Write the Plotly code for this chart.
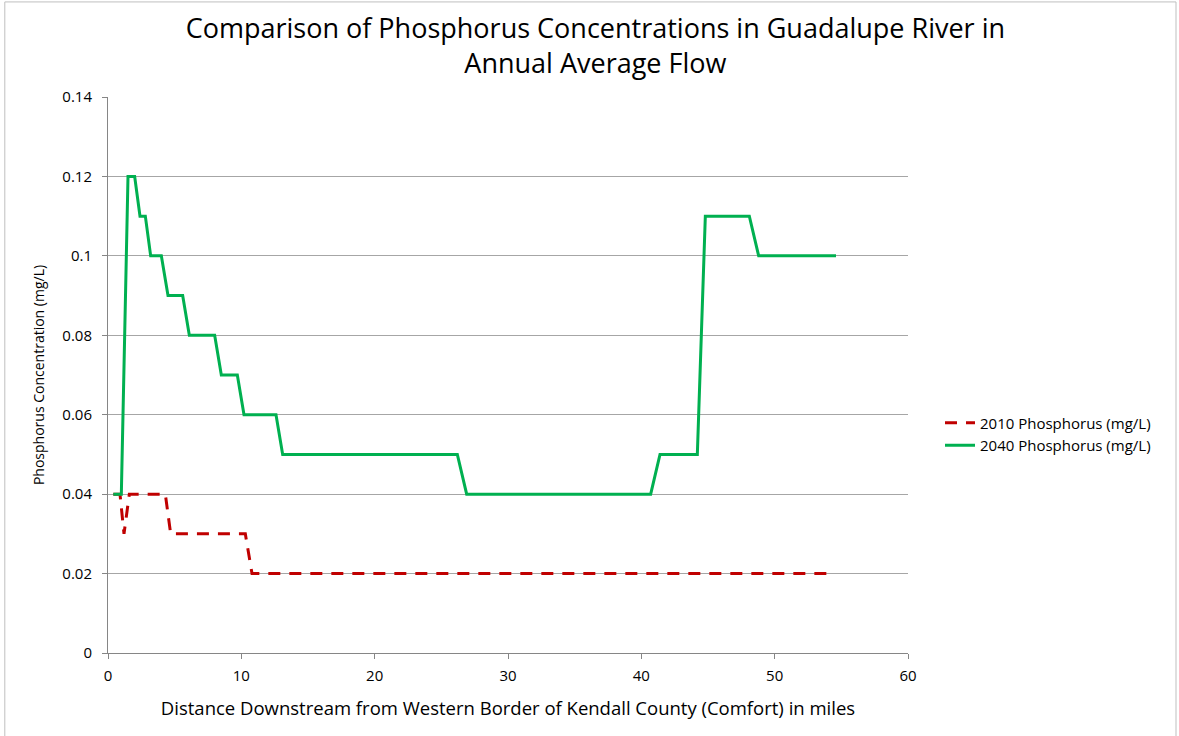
import plotly.graph_objects as go

# 2010 series: distance (miles) vs phosphorus (mg/L)
x_2010 = [0.4, 0.9, 1.2, 1.6, 4.3, 4.7, 10.3, 10.8, 54.0]
p_2010 = [0.04, 0.04, 0.03, 0.04, 0.04, 0.03, 0.03, 0.02, 0.02]

# 2040 series
x_2040 = [0.4, 1.0, 1.5, 2.0, 2.4, 2.8, 3.2, 4.0, 4.5, 5.6, 6.1, 8.0, 8.5, 9.7,
          10.2, 12.6, 13.1, 26.2, 26.9, 40.7, 41.4, 44.2, 44.8, 48.1, 48.8, 54.6]
p_2040 = [0.04, 0.04, 0.12, 0.12, 0.11, 0.11, 0.10, 0.10, 0.09, 0.09, 0.08, 0.08,
          0.07, 0.07, 0.06, 0.06, 0.05, 0.05, 0.04, 0.04, 0.05, 0.05, 0.11, 0.11,
          0.10, 0.10]

x_ticks = [0, 10, 20, 30, 40, 50, 60]
y_ticks = [0, 0.02, 0.04, 0.06, 0.08, 0.1, 0.12, 0.14]
y_labels = ["0", "0.02", "0.04", "0.06", "0.08", "0.1", "0.12", "0.14"]

font = "Open Sans"

fig = go.Figure()
fig.add_trace(go.Scatter(
    x=x_2010, y=p_2010, mode="lines", name="2010 Phosphorus (mg/L)",
    line=dict(color="#c00000", width=3, dash="12px,9px"),
))
fig.add_trace(go.Scatter(
    x=x_2040, y=p_2040, mode="lines", name="2040 Phosphorus (mg/L)",
    line=dict(color="#00b050", width=3),
))

fig.update_layout(
    width=1179, height=736,
    margin=dict(l=108, r=271, t=97, b=83),
    plot_bgcolor="white", paper_bgcolor="white",
    font=dict(family=font, color="black", size=14),
    title=dict(
        text="Comparison of Phosphorus Concentrations in Guadalupe River in<br>Annual Average Flow",
        x=0.505, xref="container", xanchor="center",
        y=0.948, yref="container", yanchor="middle",
        font=dict(family=font, size=27, color="black"),
    ),
    xaxis=dict(
        range=[0, 60], tickvals=x_ticks, showgrid=False, zeroline=False,
        showline=True, linecolor="#868686", linewidth=1,
        ticks="outside", ticklen=5, tickcolor="#868686",
        tickfont=dict(size=15), automargin=False, ticklabelstandoff=4,
        title=dict(text="Distance Downstream from Western Border of Kendall County (Comfort) in miles",
                   font=dict(size=18.5), standoff=18),
    ),
    yaxis=dict(
        range=[0, 0.14], tickvals=y_ticks, ticktext=y_labels,
        showgrid=True, gridcolor="#a6a6a6", gridwidth=1, zeroline=False,
        showline=True, linecolor="#868686", linewidth=1,
        ticks="outside", ticklen=5, tickcolor="#868686",
        tickfont=dict(size=15), automargin=False, ticklabelstandoff=7,
        title=dict(text="Phosphorus Concentration (mg/L)", font=dict(size=14), standoff=14),
    ),
    legend=dict(
        x=1.04, xanchor="left", y=0.394, yanchor="middle",
        font=dict(size=15), bgcolor="rgba(0,0,0,0)",
        tracegroupgap=4,
    ),
    shapes=[dict(
        type="rect", xref="paper", yref="paper",
        x0=-0.129, x1=1.335, y0=-0.2, y1=1.171,
        line=dict(color="#bfbfbf", width=1),
    )],
)

fig.write_html("out.html", config={"displayModeBar": False},
               post_script="document.body.style.margin='0';")
